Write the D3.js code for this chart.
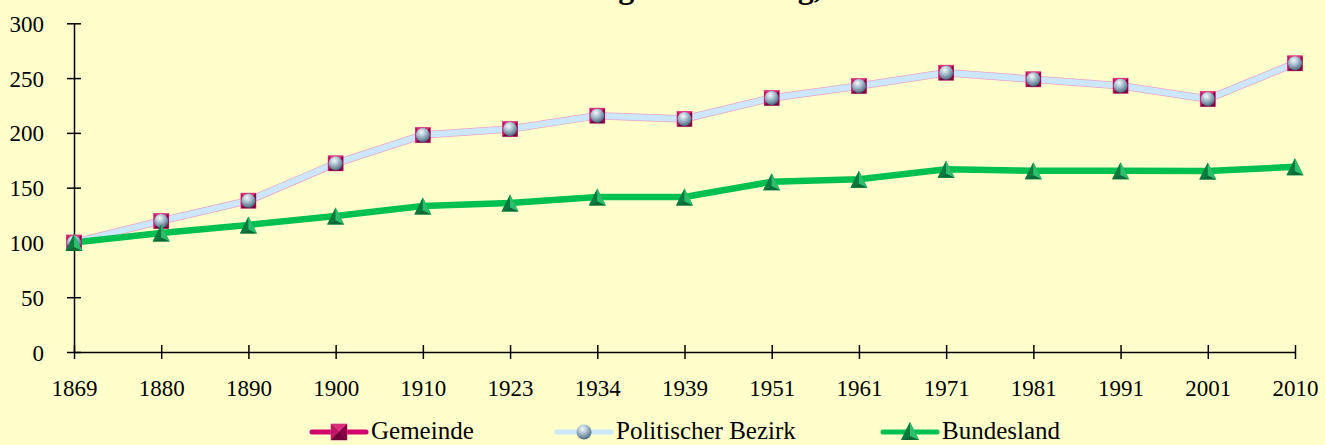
<!DOCTYPE html>
<html>
<head>
<meta charset="utf-8">
<script src="https://cdnjs.cloudflare.com/ajax/libs/d3/7.8.5/d3.min.js"></script>
<style>
html,body{margin:0;padding:0;background:#ffffcc;}
svg{display:block;}
text{font-family:"Liberation Serif","Times New Roman",serif;fill:#000;}
</style>
</head>
<body>
<svg id="chart" width="1325" height="445"></svg>
<script>
const titleText = "Bevölkerungsentwicklung, Index 1869 = 100";
const years = ["1869","1880","1890","1900","1910","1923","1934","1939","1951","1961","1971","1981","1991","2001","2010"];
const gemeinde = [100,119.6,138.1,172.2,198,203.5,215.7,212.7,231.8,242.8,254.9,248.9,243,230.9,263.5];
const bezirk   = [100,119.6,138.1,172.2,198,203.5,215.7,212.7,231.8,242.8,254.9,248.9,243,230.9,263.5];
const bundesland = [100,108.6,116,124.2,133.2,136,141.5,141.5,155.4,157.6,166.7,165.5,165.5,165.2,169];
const yTicks = [0,50,100,150,200,250,300];
const seriesNames = ["Gemeinde","Politischer Bezirk","Bundesland"];

const svg = d3.select("#chart");
const W = 1325, H = 445;
svg.append("rect").attr("width",W).attr("height",H).attr("fill","#ffffcc");

const defs = svg.append("defs");
const rg = defs.append("radialGradient").attr("id","sphere").attr("cx","40%").attr("cy","30%").attr("r","70%");
rg.append("stop").attr("offset","0%").attr("stop-color","#f4f8fb");
rg.append("stop").attr("offset","45%").attr("stop-color","#a9bfcf");
rg.append("stop").attr("offset","100%").attr("stop-color","#4f6c80");

const x = d3.scalePoint().domain(years).range([74,1295]);
const y = d3.scaleLinear().domain([0,300]).range([352,23.3]);

// title (mostly cut off at the top edge, as in the reference)
svg.append("text").attr("x",460).attr("y",-2.5).attr("text-anchor","start")
  .attr("font-weight","bold").attr("font-size",32).text(titleText);

// axes
const yAxis = d3.axisLeft(y).tickValues(yTicks).tickSize(0).tickPadding(30);
const gy = svg.append("g").attr("transform","translate(74,0)").call(yAxis);
gy.select(".domain").attr("stroke","#000").attr("stroke-width",1.5);
gy.selectAll(".tick").append("line").attr("x1",-7).attr("x2",7).attr("stroke","#000").attr("stroke-width",1.5);
gy.selectAll("text").attr("font-size",23).attr("font-family","Liberation Serif").attr("fill","#000").attr("dy","0.35em");

const xAxis = d3.axisBottom(x).tickSize(0).tickPadding(28);
const gx = svg.append("g").attr("transform","translate(0,352)").call(xAxis);
gx.select(".domain").attr("stroke","#000").attr("stroke-width",1.5);
gx.selectAll(".tick").append("line").attr("y1",-7).attr("y2",7).attr("stroke","#000").attr("stroke-width",1.5);
gx.selectAll("text").attr("font-size",23).attr("font-family","Liberation Serif").attr("fill","#000");

const line = d3.line().x((d,i)=>x(years[i])).y(d=>y(d));

svg.append("path").datum(gemeinde).attr("d",line).attr("fill","none")
  .attr("stroke","#e9a3c9").attr("stroke-width",7.5).attr("stroke-linejoin","round");
svg.append("path").datum(bezirk).attr("d",line).attr("fill","none")
  .attr("stroke","#cce6fb").attr("stroke-width",6).attr("stroke-linejoin","round");
svg.append("path").datum(bundesland).attr("d",line).attr("fill","none")
  .attr("stroke","#00c050").attr("stroke-width",6.5).attr("stroke-linejoin","round");

function square(g, cx, cy, s){
  const h=s/2;
  const gg=g.append("g").attr("transform",`translate(${cx},${cy})`);
  gg.append("rect").attr("x",-h).attr("y",-h).attr("width",s).attr("height",s).attr("fill","#b0105a").attr("stroke","#e05a9a").attr("stroke-width",0.8);
  gg.append("polygon").attr("points",`${-h},${-h} ${h},${-h} 0,0`).attr("fill","#d8307a");
  gg.append("polygon").attr("points",`${-h},${-h} ${-h},${h} 0,0`).attr("fill","#c01868");
  gg.append("polygon").attr("points",`${h},${-h} ${h},${h} 0,0`).attr("fill","#8a0044");
  gg.append("polygon").attr("points",`${-h},${h} ${h},${h} 0,0`).attr("fill","#70003a");
}
function sphere(g, cx, cy, r){
  g.append("circle").attr("cx",cx).attr("cy",cy).attr("r",r).attr("fill","url(#sphere)");
}
function triangle(g, cx, cy, w, hgt){
  const gg=g.append("g").attr("transform",`translate(${cx},${cy})`);
  const top=-hgt/2, bot=hgt/2, hw=w/2;
  gg.append("polygon").attr("points",`0,${top} ${-hw},${bot} ${hw},${bot}`).attr("fill","#1aa45a");
  gg.append("polygon").attr("points",`0,${top} ${-hw},${bot} 0,${bot-4}`).attr("fill","#0b7a3e");
  gg.append("polygon").attr("points",`0,${top} ${hw},${bot} 0,${bot-4}`).attr("fill","#2bbf6c");
  gg.append("polygon").attr("points",`${-hw},${bot} ${hw},${bot} 0,${bot-4}`).attr("fill","#0e6a35");
}

const mk = svg.append("g");
gemeinde.forEach((v,i)=>square(mk, x(years[i]), y(v), 15));
bezirk.forEach((v,i)=>sphere(mk, x(years[i]), y(v), 7));
bundesland.forEach((v,i)=>triangle(mk, x(years[i]), y(v), 17, 17));

// legend
const lg = svg.append("g");
const legY = 432;
const items = [
  {name:seriesNames[0], x0:312, color:"#d4006e", mark:"sq"},
  {name:seriesNames[1], x0:557, color:"#cce6fb", mark:"sp"},
  {name:seriesNames[2], x0:883, color:"#00c050", mark:"tr"}
];
items.forEach(it=>{
  lg.append("line").attr("x1",it.x0).attr("x2",it.x0+54).attr("y1",legY).attr("y2",legY)
    .attr("stroke",it.color).attr("stroke-width",5).attr("stroke-linecap","round");
  const cx = it.x0+27;
  if(it.mark==="sq") square(lg,cx,legY,16);
  else if(it.mark==="sp") sphere(lg,cx,legY,7.5);
  else triangle(lg,cx,legY-1,18,18);
  lg.append("text").attr("x",it.x0+59).attr("y",439).attr("font-size",25).text(it.name);
});
</script>
</body>
</html>
